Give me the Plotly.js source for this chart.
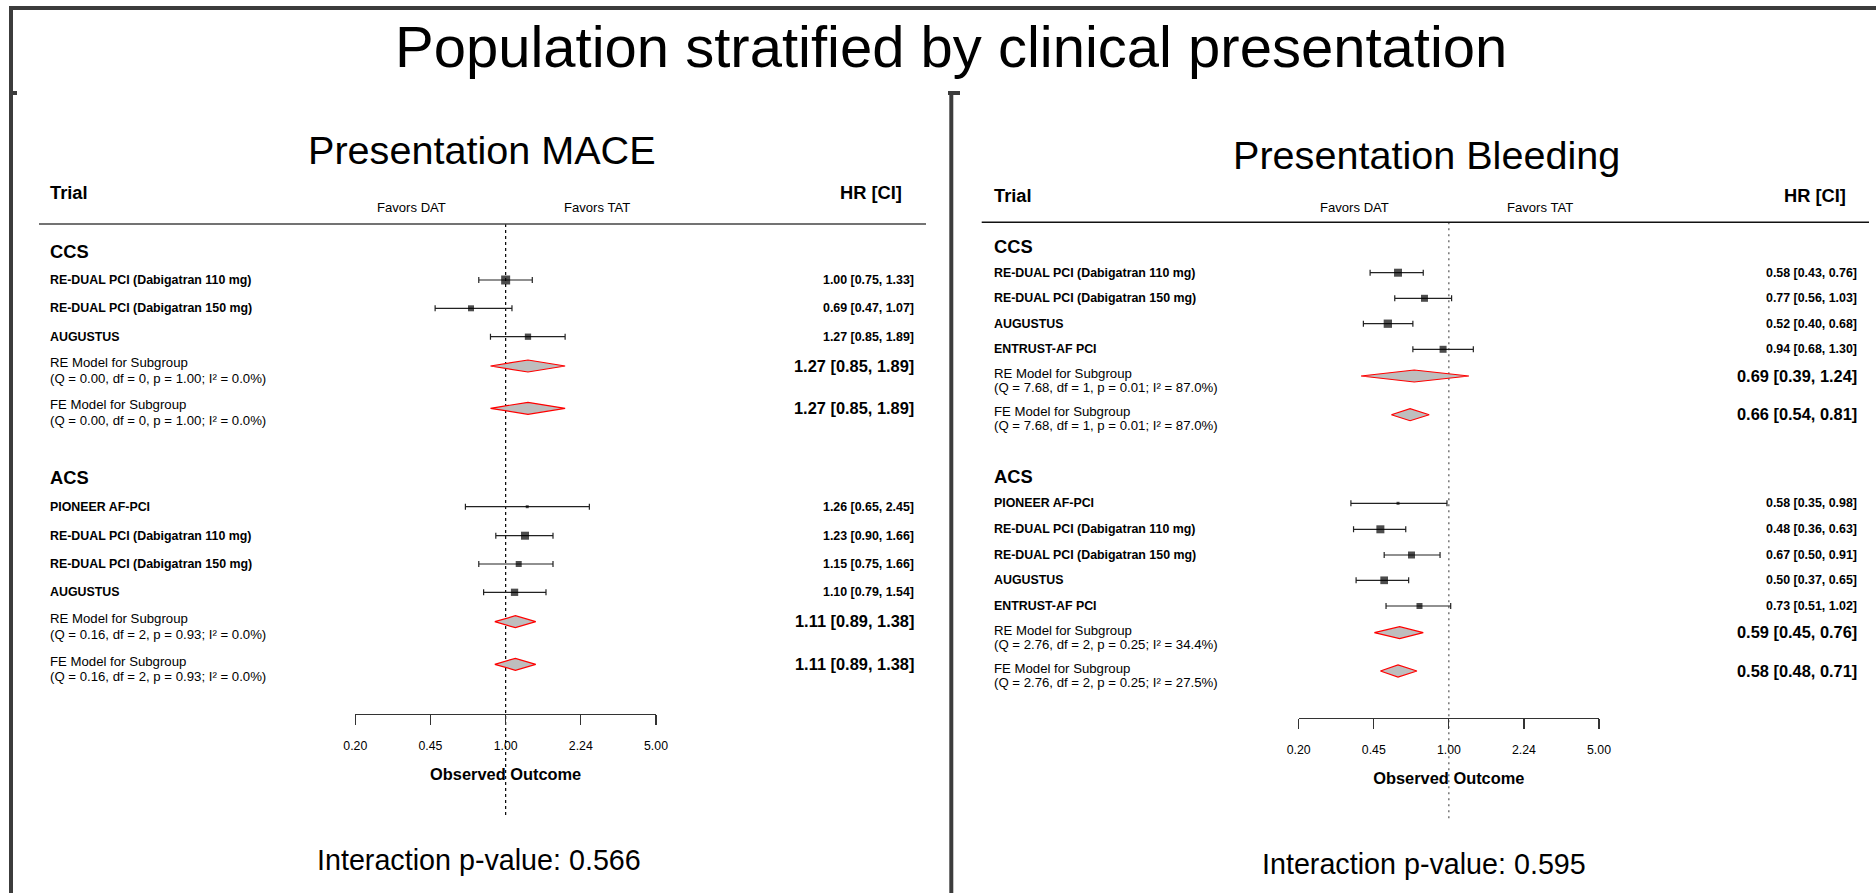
<!DOCTYPE html>
<html>
<head>
<meta charset="utf-8">
<script src="https://cdn.plot.ly/plotly-3.0.1.min.js"></script>
<style>
html,body{margin:0;padding:0;background:#ffffff;}
#chart{width:1876px;height:893px;}
</style>
</head>
<body>
<div id="chart"></div>
<script>
// ---------------- DATA ----------------
const mainTitle = 'Population stratified by clinical presentation';
const maceTitle = 'Presentation MACE';
const bleedTitle = 'Presentation Bleeding';
const maceInteractionP = '0.566';
const bleedInteractionP = '0.595';
const groupNames = ['CCS', 'ACS'];
const xTickLabels = ['0.20', '0.45', '1.00', '2.24', '5.00'];

// MACE – CCS
const maceCcsTrials = ['RE-DUAL PCI (Dabigatran 110 mg)', 'RE-DUAL PCI (Dabigatran 150 mg)', 'AUGUSTUS'];
const maceCcsHR = [1.00, 0.69, 1.27];
const maceCcsLo = [0.75, 0.47, 0.85];
const maceCcsHi = [1.33, 1.07, 1.89];
const maceCcsWeightBox = [9, 6, 6.3];
const maceCcsModelHR = [1.27, 1.27];      // RE, FE
const maceCcsModelLo = [0.85, 0.85];
const maceCcsModelHi = [1.89, 1.89];
const maceCcsQ = ['0.00', '0.00'], maceCcsDf = ['0', '0'], maceCcsP = ['1.00', '1.00'], maceCcsI2 = ['0.0', '0.0'];

// MACE – ACS
const maceAcsTrials = ['PIONEER AF-PCI', 'RE-DUAL PCI (Dabigatran 110 mg)', 'RE-DUAL PCI (Dabigatran 150 mg)', 'AUGUSTUS'];
const maceAcsHR = [1.26, 1.23, 1.15, 1.10];
const maceAcsLo = [0.65, 0.90, 0.75, 0.79];
const maceAcsHi = [2.45, 1.66, 1.66, 1.54];
const maceAcsWeightBox = [3, 8, 6, 7.3];
const maceAcsModelHR = [1.11, 1.11];
const maceAcsModelLo = [0.89, 0.89];
const maceAcsModelHi = [1.38, 1.38];
const maceAcsQ = ['0.16', '0.16'], maceAcsDf = ['2', '2'], maceAcsP = ['0.93', '0.93'], maceAcsI2 = ['0.0', '0.0'];

// Bleeding – CCS
const bleedCcsTrials = ['RE-DUAL PCI (Dabigatran 110 mg)', 'RE-DUAL PCI (Dabigatran 150 mg)', 'AUGUSTUS', 'ENTRUST-AF PCI'];
const bleedCcsHR = [0.58, 0.77, 0.52, 0.94];
const bleedCcsLo = [0.43, 0.56, 0.40, 0.68];
const bleedCcsHi = [0.76, 1.03, 0.68, 1.30];
const bleedCcsWeightBox = [8, 7, 8.3, 7];
const bleedCcsModelHR = [0.69, 0.66];
const bleedCcsModelLo = [0.39, 0.54];
const bleedCcsModelHi = [1.24, 0.81];
const bleedCcsQ = ['7.68', '7.68'], bleedCcsDf = ['1', '1'], bleedCcsP = ['0.01', '0.01'], bleedCcsI2 = ['87.0', '87.0'];

// Bleeding – ACS
const bleedAcsTrials = ['PIONEER AF-PCI', 'RE-DUAL PCI (Dabigatran 110 mg)', 'RE-DUAL PCI (Dabigatran 150 mg)', 'AUGUSTUS', 'ENTRUST-AF PCI'];
const bleedAcsHR = [0.58, 0.48, 0.67, 0.50, 0.73];
const bleedAcsLo = [0.35, 0.36, 0.50, 0.37, 0.51];
const bleedAcsHi = [0.98, 0.63, 0.91, 0.65, 1.02];
const bleedAcsWeightBox = [3, 8, 7, 7.7, 6];
const bleedAcsModelHR = [0.59, 0.58];
const bleedAcsModelLo = [0.45, 0.48];
const bleedAcsModelHi = [0.76, 0.71];
const bleedAcsQ = ['2.76', '2.76'], bleedAcsDf = ['2', '2'], bleedAcsP = ['0.25', '0.25'], bleedAcsI2 = ['34.4', '27.5'];

const modelNames = ['RE Model for Subgroup', 'FE Model for Subgroup'];

// ---------------- LAYOUT (pixel positions / styles) ----------------
const W = 1876, H = 893;
const FONT = '"Liberation Sans", Arial, Helvetica, sans-serif';
const INK = '#000000';
const FRAME = '#3c3c3c';

function grp(name, trials, hr, lo, hi, box, mhr, mlo, mhi, q, df, p, i2) {
  return {name, trials, hr, lo, hi, box, mhr, mlo, mhi, q, df, p, i2};
}

const panels = [
  {
    title: maceTitle, pval: maceInteractionP, xa: 'x', ya: 'y', xaKey: 'xaxis', yaKey: 'yaxis',
    axisY: 714, xLo: 355.3, xHi: 656,
    titleX: 482, titleY: 150, labelX: 49, hrHeadRight: 903, hrRight: 915,
    favDatX: 411, favTatX: 597, headY: 192.3, favY: 207.5,
    lineY: 224, lineX0: 39, lineX1: 926, lineColor: '#444',
    refTop: 224, refBottom: 816, refColor: '#000', refDash: '3px,3px',
    pX: 479, pY: 860, modelOff: [-3.3, 12.3],
    groups: [
      Object.assign(grp(groupNames[0], maceCcsTrials, maceCcsHR, maceCcsLo, maceCcsHi, maceCcsWeightBox,
        maceCcsModelHR, maceCcsModelLo, maceCcsModelHi, maceCcsQ, maceCcsDf, maceCcsP, maceCcsI2),
        {headY: 251, rows: [280, 308.3, 336.7], modelY: [366, 408.3]}),
      Object.assign(grp(groupNames[1], maceAcsTrials, maceAcsHR, maceAcsLo, maceAcsHi, maceAcsWeightBox,
        maceAcsModelHR, maceAcsModelLo, maceAcsModelHi, maceAcsQ, maceAcsDf, maceAcsP, maceAcsI2),
        {headY: 477.3, rows: [506.7, 535.7, 564, 592.3], modelY: [621.7, 664.3]})
    ]
  },
  {
    title: bleedTitle, pval: bleedInteractionP, xa: 'x2', ya: 'y2', xaKey: 'xaxis2', yaKey: 'yaxis2',
    axisY: 717.7, xLo: 1298.7, xHi: 1599,
    titleX: 1426, titleY: 155.3, labelX: 992.7, hrHeadRight: 1846.7, hrRight: 1858.3,
    favDatX: 1354.3, favTatX: 1540, headY: 195, favY: 207.5,
    lineY: 222.3, lineX0: 981.7, lineX1: 1869, lineColor: '#111',
    refTop: 222.3, refBottom: 819.3, refColor: '#555', refDash: '2px,4px',
    pX: 1424, pY: 864, modelOff: [-2.7, 11.3],
    groups: [
      Object.assign(grp(groupNames[0], bleedCcsTrials, bleedCcsHR, bleedCcsLo, bleedCcsHi, bleedCcsWeightBox,
        bleedCcsModelHR, bleedCcsModelLo, bleedCcsModelHi, bleedCcsQ, bleedCcsDf, bleedCcsP, bleedCcsI2),
        {headY: 246, rows: [272.7, 298.3, 323.7, 349.3], modelY: [376, 414.7]}),
      Object.assign(grp(groupNames[1], bleedAcsTrials, bleedAcsHR, bleedAcsLo, bleedAcsHi, bleedAcsWeightBox,
        bleedAcsModelHR, bleedAcsModelLo, bleedAcsModelHi, bleedAcsQ, bleedAcsDf, bleedAcsP, bleedAcsI2),
        {headY: 476.7, rows: [503.3, 529.3, 555, 580.3, 606], modelY: [632.7, 671]})
    ]
  }
];

const DIAMOND_HALF = 6;
const fmt = v => v.toFixed(2);
const px = x => x / W;
const py = y => 1 - y / H;

function ann(text, x, y, size, anchor, bold) {
  return {
    text, x: px(x), y: py(y), xref: 'paper', yref: 'paper',
    xanchor: anchor || 'left', yanchor: 'middle', showarrow: false, borderpad: 0,
    font: {family: FONT, size, color: INK, weight: bold ? 'bold' : 'normal'}
  };
}

const traces = [];
const annotations = [];
const shapes = [];
const layout = {
  width: W, height: H,
  margin: {l: 0, r: 0, t: 0, b: 0, pad: 0},
  paper_bgcolor: '#ffffff', plot_bgcolor: 'rgba(0,0,0,0)',
  showlegend: false, hovermode: false,
  font: {family: FONT, color: INK}
};

// log-spaced ticks between the axis limits
const alim = [0.2, 5];
const tickVals = xTickLabels.map((t, i) =>
  Math.exp(Math.log(alim[0]) + i * (Math.log(alim[1]) - Math.log(alim[0])) / (xTickLabels.length - 1)));

annotations.push(ann(mainTitle, 951, 47, 58, 'center', false));

panels.forEach(P => {
  layout[P.xaKey] = {
    type: 'log', domain: [px(P.xLo), px(P.xHi)],
    range: [Math.log10(alim[0]), Math.log10(alim[1])],
    anchor: 'free', position: py(P.axisY),
    showline: true, linecolor: '#333', linewidth: 1.3,
    ticks: 'outside', ticklen: 10, tickwidth: 1.3, tickcolor: '#333',
    tickvals: tickVals, ticktext: xTickLabels, ticklabelstandoff: 10,
    tickfont: {family: FONT, size: 12.3, color: INK},
    showgrid: false, zeroline: false, fixedrange: true,
    title: {text: 'Observed Outcome', standoff: 16, font: {family: FONT, size: 16.4, color: INK, weight: 'bold'}}
  };
  layout[P.yaKey] = {domain: [0, 1], range: [H, 0], visible: false, fixedrange: true,
                     anchor: P.xa, showgrid: false, zeroline: false};

  // titles & headers
  annotations.push(ann(P.title, P.titleX, P.titleY, 39.6, 'center', false));
  annotations.push(ann('Trial', P.labelX, P.headY, 18.3, 'left', true));
  annotations.push(ann('HR [CI]', P.hrHeadRight, P.headY, 18.3, 'right', true));
  annotations.push(ann('Favors DAT', P.favDatX, P.favY, 13.1, 'center', false));
  annotations.push(ann('Favors TAT', P.favTatX, P.favY, 13.1, 'center', false));
  annotations.push(ann('Interaction p-value: ' + P.pval, P.pX, P.pY, 28.7, 'center', false));

  shapes.push({type: 'line', xref: 'paper', yref: 'paper', x0: px(P.lineX0), x1: px(P.lineX1),
               y0: py(P.lineY), y1: py(P.lineY), line: {color: P.lineColor, width: 1.5}});

  // reference line at HR = 1
  traces.push({type: 'scatter', mode: 'lines', xaxis: P.xa, yaxis: P.ya,
               x: [1, 1], y: [P.refTop, P.refBottom],
               line: {color: P.refColor, width: 1.2, dash: P.refDash}, hoverinfo: 'skip'});

  P.groups.forEach(G => {
    annotations.push(ann(G.name, P.labelX, G.headY, 18.3, 'left', true));
    G.trials.forEach((t, i) => {
      annotations.push(ann(t, P.labelX, G.rows[i], 12.4, 'left', true));
      annotations.push(ann(`${fmt(G.hr[i])} [${fmt(G.lo[i])}, ${fmt(G.hi[i])}]`, P.hrRight, G.rows[i], 12.4, 'right', true));
    });
    // confidence intervals (drawn first, beneath the boxes)
    traces.push({
      type: 'scatter', mode: 'markers', xaxis: P.xa, yaxis: P.ya,
      x: G.hr, y: G.rows,
      marker: {size: 1, opacity: 0},
      error_x: {type: 'data', symmetric: false,
                array: G.hi.map((h, i) => h - G.hr[i]),
                arrayminus: G.lo.map((l, i) => G.hr[i] - l),
                color: '#222', thickness: 1.2, width: 3},
      hoverinfo: 'skip'
    });
    // weighted boxes
    traces.push({
      type: 'scatter', mode: 'markers', xaxis: P.xa, yaxis: P.ya,
      x: G.hr, y: G.rows,
      marker: {symbol: 'square', size: G.box, color: '#000', line: {width: 0}},
      cliponaxis: false, hoverinfo: 'skip'
    });
    G.mhr.forEach((m, k) => {
      const yc = G.modelY[k];
      traces.push({
        type: 'scatter', mode: 'lines', xaxis: P.xa, yaxis: P.ya,
        x: [G.mlo[k], m, G.mhi[k], m, G.mlo[k]],
        y: [yc, yc - DIAMOND_HALF, yc, yc + DIAMOND_HALF, yc],
        fill: 'toself', fillcolor: '#bebebe',
        line: {color: '#ff0000', width: 1.2}, hoverinfo: 'skip'
      });
      annotations.push(ann(modelNames[k], P.labelX, yc + P.modelOff[0], 13.2, 'left', false));
      annotations.push(ann(`(Q = ${G.q[k]}, df = ${G.df[k]}, p = ${G.p[k]}; I² = ${G.i2[k]}%)`,
                           P.labelX, yc + P.modelOff[1], 13.2, 'left', false));
      annotations.push(ann(`${fmt(m)} [${fmt(G.mlo[k])}, ${fmt(G.mhi[k])}]`, P.hrRight, yc - 0.5, 16.4, 'right', true));
    });
  });
});

// outer frame
const frameLine = (x0, y0, x1, y1, w) => ({type: 'line', xref: 'paper', yref: 'paper',
  x0: px(x0), y0: py(y0), x1: px(x1), y1: py(y1), line: {color: FRAME, width: w}});
shapes.push(frameLine(9, 8, W, 8, 4));
shapes.push(frameLine(11, 6, 11, H, 4));
shapes.push(frameLine(11, 93, 17, 93, 4));
shapes.push(frameLine(951.3, 91, 951.3, H, 4));
shapes.push(frameLine(948, 93, 960, 93, 4));

layout.annotations = annotations;
layout.shapes = shapes;

Plotly.newPlot('chart', traces, layout, {displayModeBar: false, staticPlot: true});
</script>
</body>
</html>
